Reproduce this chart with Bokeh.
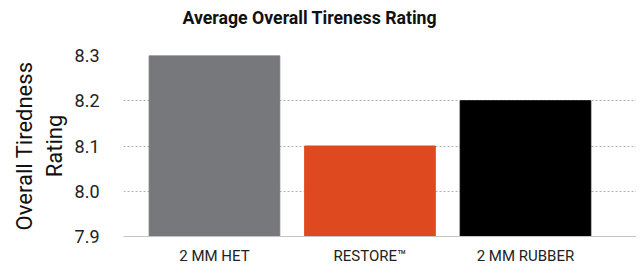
from bokeh.plotting import figure
from bokeh.models import FixedTicker, Range1d, Title
from bokeh.embed import file_html
from bokeh.resources import INLINE

title_text = "Average Overall Tireness Rating"
categories = ["2 MM HET", "RESTORE™", "2 MM RUBBER"]
values = [8.3, 8.1, 8.2]
colors = ["#77787c", "#df491f", "#000000"]
x_pos = [0, 1, 2]
y_ticks = [7.9, 8.0, 8.1, 8.2, 8.3]

p = figure(frame_width=513, frame_height=181, output_backend="svg", toolbar_location=None,
           x_range=Range1d(-0.585, 2.714), y_range=Range1d(7.9, 8.3),
           min_border_left=123, min_border_right=0, min_border_top=55, min_border_bottom=0)
p.outline_line_color = None

spacer = Title(text=" ", text_font="Roboto", text_font_size="18px", standoff=0)
p.add_layout(spacer, "above")
main_title = Title(text=title_text, align="left", offset=59, standoff=9,
                   text_font="Roboto", text_font_size="17.7px", text_font_style="bold",
                   text_color="#111111")
p.add_layout(main_title, "above")

p.vbar(x=x_pos, top=values, bottom=7.9, width=0.84, color=colors)

for ax in (p.xaxis, p.yaxis):
    ax.major_tick_out = 0
    ax.major_tick_in = 0
    ax.minor_tick_out = 0
    ax.minor_tick_in = 0
    ax.major_tick_line_color = None
    ax.minor_tick_line_color = None

p.xaxis.ticker = FixedTicker(ticks=x_pos)
p.xaxis.major_label_overrides = {i: c for i, c in zip(x_pos, categories)}
p.xaxis.axis_line_color = "#c4c4c4"
p.xaxis.major_label_text_font = "Roboto"
p.xaxis.major_label_text_font_size = "15px"
p.xaxis.major_label_text_color = "#222222"
p.xaxis.major_label_standoff = 10

p.yaxis.ticker = FixedTicker(ticks=y_ticks)
p.yaxis.major_label_overrides = {t: f"{t:.1f}" for t in y_ticks}
p.yaxis.axis_line_color = None
p.yaxis.major_label_text_font = "Roboto"
p.yaxis.major_label_text_font_size = "18px"
p.yaxis.major_label_text_color = "#222222"
p.yaxis.major_label_standoff = 24
p.yaxis.axis_label = "Overall Tiredness\nRating"
p.yaxis.axis_label_text_font = "Roboto"
p.yaxis.axis_label_text_font_size = "22px"
p.yaxis.axis_label_text_font_style = "normal"
p.yaxis.axis_label_text_color = "#111111"
p.yaxis.axis_label_standoff = 5

p.xgrid.grid_line_color = None
p.ygrid.ticker = FixedTicker(ticks=[8.0, 8.1, 8.2, 8.3])
p.ygrid.grid_line_color = "#b0b0b0"
p.ygrid.grid_line_dash = "2 2"

open("out.html", "w").write(file_html(p, INLINE))
